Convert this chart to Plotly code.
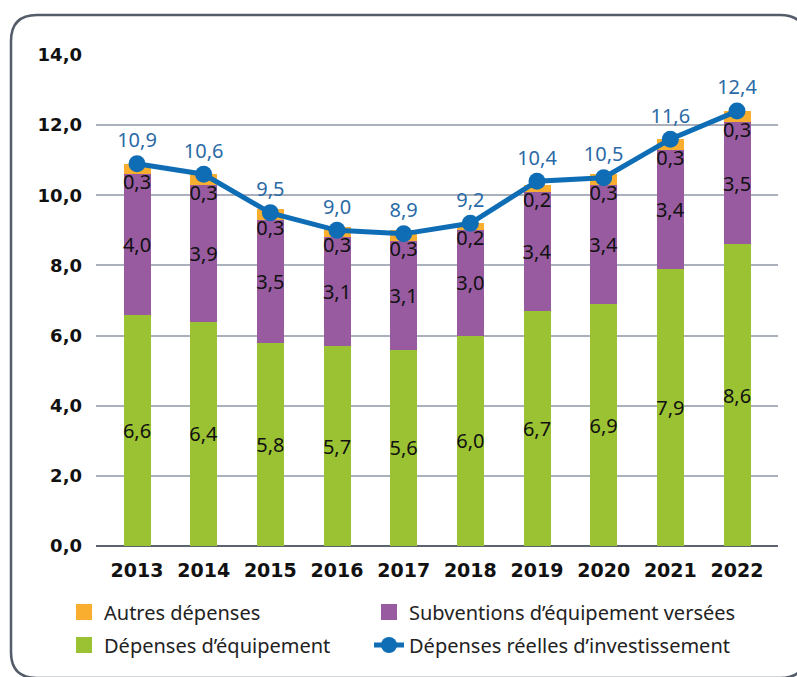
import plotly.graph_objects as go

years = ['2013', '2014', '2015', '2016', '2017', '2018', '2019', '2020', '2021', '2022']
equipement = [6.6, 6.4, 5.8, 5.7, 5.6, 6.0, 6.7, 6.9, 7.9, 8.6]
subventions = [4.0, 3.9, 3.5, 3.1, 3.1, 3.0, 3.4, 3.4, 3.4, 3.5]
autres = [0.3, 0.3, 0.3, 0.3, 0.3, 0.2, 0.2, 0.3, 0.3, 0.3]
total = [10.9, 10.6, 9.5, 9.0, 8.9, 9.2, 10.4, 10.5, 11.6, 12.4]

W, H = 797, 677
ML, MR, MT, MB = 96, 19, 55, 131
FONT = 'Noto Sans'
TICKFONT = 'DejaVu Sans'
GREEN = '#9bc232'
PURPLE = '#985ba0'
ORANGE = '#f9ae2f'
BLUE = '#0e6db4'

pw, ph = W - ML - MR, H - MT - MB


def px_x(p):
    return (p - ML) / pw


def px_y(p):
    return (H - MB - p) / ph


fig = go.Figure()

bar_text = dict(texttemplate='%{y:.1f}', textposition='inside', insidetextanchor='middle',
                textangle=0, constraintext='none',
                textfont=dict(color='#111111', size=20, family=FONT))

fig.add_trace(go.Bar(x=years, y=equipement, name='Dépenses d’équipement',
                     marker=dict(color=GREEN, line=dict(width=0)),
                     showlegend=False, **bar_text))
fig.add_trace(go.Bar(x=years, y=subventions, name='Subventions d’équipement versées',
                     marker=dict(color=PURPLE, line=dict(width=0)),
                     showlegend=False, **bar_text))
fig.add_trace(go.Bar(x=years, y=autres, name='Autres dépenses',
                     marker=dict(color=ORANGE, line=dict(width=0)),
                     textposition='none', showlegend=False))

# labels for the small orange segment, placed just under it
fig.add_trace(go.Scatter(
    x=years, y=[e + s for e, s in zip(equipement, subventions)],
    text=[f'{v:.1f}'.replace('.', ',') for v in autres],
    mode='text', textposition='bottom center',
    textfont=dict(color='#111111', size=20, family=FONT),
    showlegend=False, hoverinfo='skip',
))

fig.add_trace(go.Scatter(
    x=years, y=total, name='Dépenses réelles d’investissement',
    mode='lines+markers+text',
    line=dict(color=BLUE, width=5),
    marker=dict(color=BLUE, size=17),
    texttemplate='%{y:.1f}', textposition='top center',
    textfont=dict(color='#2b6aa6', size=20, family=FONT),
    legend='legend4',
))

# legend swatches (bigger squares than the default bar swatch)
for name, color, leg in [('Autres dépenses', ORANGE, 'legend'),
                         ('Subventions d’équipement versées', PURPLE, 'legend2'),
                         ('Dépenses d’équipement', GREEN, 'legend3')]:
    fig.add_trace(go.Scatter(x=[None], y=[None], name=name, mode='markers',
                             marker=dict(symbol='square', size=19, color=color),
                             legend=leg, hoverinfo='skip'))

# rounded frame around the chart
x0, x1, y0, y1, r = 11, 806, 15, 678, 26
path = (
    f'M {px_x(x0 + r)},{px_y(y0)} L {px_x(x1 - r)},{px_y(y0)} '
    f'Q {px_x(x1)},{px_y(y0)} {px_x(x1)},{px_y(y0 + r)} '
    f'L {px_x(x1)},{px_y(y1 - r)} Q {px_x(x1)},{px_y(y1)} {px_x(x1 - r)},{px_y(y1)} '
    f'L {px_x(x0 + r)},{px_y(y1)} Q {px_x(x0)},{px_y(y1)} {px_x(x0)},{px_y(y1 - r)} '
    f'L {px_x(x0)},{px_y(y0 + r)} Q {px_x(x0)},{px_y(y0)} {px_x(x0 + r)},{px_y(y0)} Z'
)

legend_style = dict(orientation='h', xanchor='left', yanchor='middle',
                    font=dict(size=20, family=FONT, color='#222222'),
                    bgcolor='rgba(0,0,0,0)', borderwidth=0)

fig.update_layout(
    width=W, height=H,
    margin=dict(l=ML, r=MR, t=MT, b=MB, autoexpand=False),
    paper_bgcolor='white', plot_bgcolor='white',
    barmode='stack', bargap=0.595,
    separators=', ',
    font=dict(family=FONT, color='#111111'),
    shapes=[dict(type='path', path=path, xref='paper', yref='paper',
                 line=dict(color='#555c69', width=2.5), layer='above')],
    xaxis=dict(
        type='category', range=[-0.615, 9.615], showgrid=False,
        showline=False, ticks='', ticklabelstandoff=11,
        tickfont=dict(size=19, family=TICKFONT, weight='bold', color='#111111'),
    ),
    yaxis=dict(
        range=[0, 14], dtick=2, tickformat='.1f',
        showgrid=True, gridcolor='#aab0bc', gridwidth=2,
        zeroline=True, zerolinecolor='#5b6270', zerolinewidth=2,
        showline=False, ticks='', ticklabelstandoff=13,
        tickfont=dict(size=18, family=TICKFONT, weight='bold', color='#111111'),
    ),
    legend=dict(x=px_x(64), y=px_y(612), **legend_style),
    legend2=dict(x=px_x(369), y=px_y(612), **legend_style),
    legend3=dict(x=px_x(64), y=px_y(645), **legend_style),
    legend4=dict(x=px_x(369), y=px_y(645), **legend_style),
)

fig.write_html('out.html', config={'displayModeBar': False},
               post_script="document.body.style.margin = '0';")
